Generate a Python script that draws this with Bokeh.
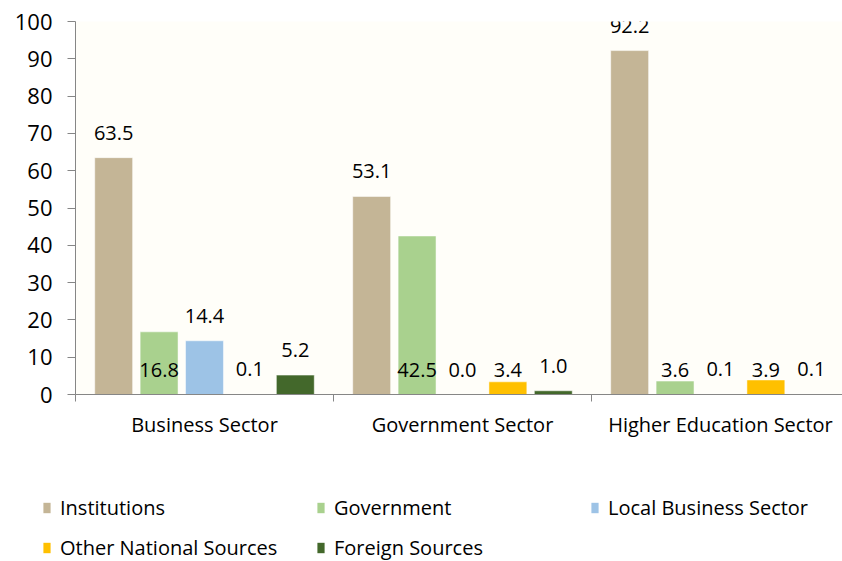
from bokeh.plotting import figure
from bokeh.models import ColumnDataSource, LabelSet, Legend, LegendItem, FixedTicker, Range1d
from bokeh.core.properties import value
from bokeh.embed import file_html
from bokeh.resources import INLINE

categories = ["Business Sector", "Government Sector", "Higher Education Sector"]
series = ["Institutions", "Government", "Local Business Sector",
          "Other National Sources", "Foreign Sources"]
institutions = [63.5, 53.1, 92.2]
government = [16.8, 42.5, 3.6]
local_business = [14.4, 0.0, 0.1]
other_national = [0.1, 3.4, 3.9]
foreign = [5.2, 1.0, 0.1]
values = [institutions, government, local_business, other_national, foreign]
# data label placed at the base of the bar (True) or at its outer end (False)
label_at_base = [
    [False, False, False],
    [True, True, True],
    [False, False, False],
    [False, True, True],
    [False, False, False],
]
colors = ["#C4B596", "#A9D18E", "#9DC3E6", "#FFC000", "#43682B"]
y_ticks = list(range(0, 101, 10))

FONT = "Open Sans"
pitch = 0.176
bw = 0.147

p = figure(width=842, height=460, output_backend="svg", toolbar_location=None,
           x_range=Range1d(0, 2.973), y_range=Range1d(0, 100),
           min_border_left=75, min_border_right=0, min_border_top=21,
           min_border_bottom=66)
p.outline_line_color = None
p.background_fill_color = "#FFFEF9"
p.border_fill_color = "white"
p.xgrid.visible = False
p.ygrid.visible = False

# legend figure: its renderers are hidden, only the legend is shown
p2 = figure(width=842, height=101, output_backend="svg", toolbar_location=None,
            x_range=Range1d(100, 101), y_range=Range1d(1000, 1001),
            x_axis_location=None, y_axis_location=None,
            min_border_left=0, min_border_right=0, min_border_top=0,
            min_border_bottom=0)
p2.outline_line_color = None
p2.xgrid.visible = False
p2.ygrid.visible = False

items = []
for j, (name, vals, col) in enumerate(zip(series, values, colors)):
    xs = [i + 0.5 + (j - 2) * pitch for i in range(len(categories))]
    src = ColumnDataSource(dict(
        x=xs, top=vals,
        ly=[0 if b else v for v, b in zip(vals, label_at_base[j])],
        txt=["%.1f" % v for v in vals]))
    p.vbar(x="x", top="top", bottom=0, width=bw, source=src,
           fill_color=col, line_color="white", line_alpha=0.5, line_width=1)
    r2 = p2.vbar(x="x", top="top", bottom=0, width=bw, source=src,
                 fill_color=col, line_color=None, visible=False)
    items.append(LegendItem(label=name, renderers=[r2]))
    p.add_layout(LabelSet(x="x", y="ly", text="txt", source=src,
                          text_align="center", text_baseline="middle",
                          y_offset=25, text_font=value(FONT),
                          text_font_size=value("20px"),
                          text_color="black"))

# axes
p.xaxis.ticker = FixedTicker(ticks=[i + 0.5 for i in range(len(categories))],
                             minor_ticks=list(range(len(categories) + 1)))
p.xaxis.major_label_overrides = {i + 0.5: c for i, c in enumerate(categories)}
p.xaxis.major_tick_out = 0
p.xaxis.major_tick_in = 0
p.xaxis.minor_tick_out = 7
p.xaxis.minor_tick_in = 0
p.xaxis.minor_tick_line_color = "#868686"
p.xaxis.axis_line_color = "#868686"
p.xaxis.major_label_standoff = 9
p.xaxis.major_label_text_font = FONT
p.xaxis.major_label_text_font_size = "20px"
p.xaxis.major_label_text_color = "black"

p.yaxis.ticker = FixedTicker(ticks=y_ticks)
p.yaxis.major_tick_out = 8
p.yaxis.major_tick_in = 0
p.yaxis.minor_tick_line_color = None
p.yaxis.major_tick_line_color = "#868686"
p.yaxis.axis_line_color = "#868686"
p.yaxis.major_label_standoff = 15
p.yaxis.major_label_text_font = FONT
p.yaxis.major_label_text_font_size = "22px"
p.yaxis.major_label_text_color = "black"

legend = Legend(items=items, orientation="horizontal", ncols=3, location=(42, 0),
                glyph_width=9, glyph_height=13, label_standoff=9,
                label_width=243, label_height=20, spacing=13, padding=0, margin=0,
                border_line_color=None, background_fill_alpha=0,
                inactive_fill_alpha=0,
                label_text_font=FONT, label_text_font_size="20px",
                label_text_color="black")
p2.add_layout(legend, "center")

open("out.html", "w").write(file_html([p, p2], INLINE))
